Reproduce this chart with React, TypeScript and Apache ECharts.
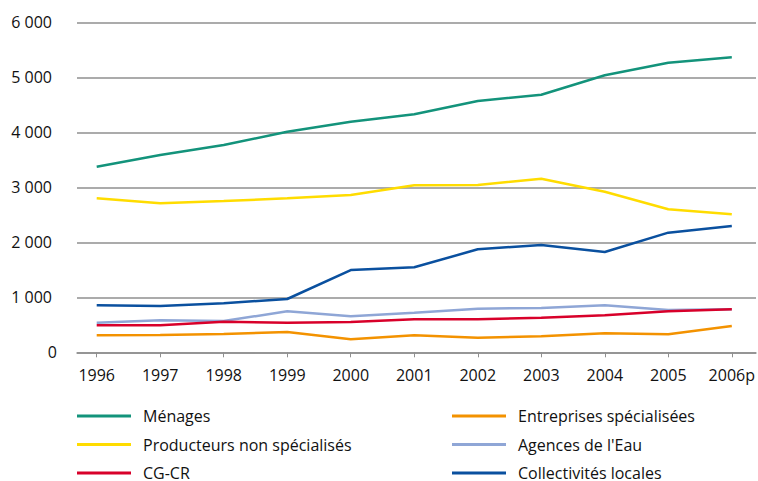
import React, { useEffect, useRef } from "react";
import * as echarts from "echarts";

const years = ["1996", "1997", "1998", "1999", "2000", "2001", "2002", "2003", "2004", "2005", "2006p"];

const menages = [3375, 3587, 3769, 4011, 4193, 4327, 4569, 4684, 5036, 5265, 5364];
const entreprises = [309, 315, 333, 369, 236, 309, 266, 290, 345, 327, 478];
const producteurs = [2800, 2710, 2750, 2800, 2860, 3036, 3040, 3156, 2920, 2600, 2509];
const agences = [538, 581, 569, 745, 655, 720, 793, 805, 855, 769, 782];
const cgcr = [491, 491, 557, 539, 551, 600, 600, 630, 672, 745, 782];
const collectivites = [855, 842, 891, 969, 1496, 1545, 1873, 1951, 1824, 2175, 2296];

const seriesNames = [
  "Ménages",
  "Entreprises spécialisées",
  "Producteurs non spécialisés",
  "Agences de l'Eau",
  "CG-CR",
  "Collectivités locales",
];
const seriesData = [menages, entreprises, producteurs, agences, cgcr, collectivites];
const seriesColors = ["#13937b", "#f39200", "#ffdc00", "#8fa6d6", "#d8002a", "#0a509f"];

const leftLegend = ["Ménages", "Producteurs non spécialisés", "CG-CR"];
const rightLegend = ["Entreprises spécialisées", "Agences de l'Eau", "Collectivités locales"];

const yTicks = { min: 0, max: 6000, interval: 1000 };

const FONT = "'Open Sans', 'Noto Sans', sans-serif";
const TEXT = "#111111";
const GRAY = "#8f8f8f";

export default function App() {
  const ref = useRef<HTMLDivElement>(null);

  useEffect(() => {
    if (!ref.current) return;
    const chart = echarts.init(ref.current, undefined, { renderer: "svg" });
    const top = 22.3;
    const bottom = 481 - 352.3;
    const legendCommon = {
      orient: "vertical",
      icon: "rect",
      itemWidth: 54,
      itemHeight: 3,
      itemGap: 12.5,
      padding: 0,
      height: 140,
      selectedMode: false,
      textStyle: {
        fontFamily: FONT,
        fontSize: 16,
        color: TEXT,
        lineHeight: 16,
        padding: [0, 0, 0, 7],
      },
    };
    chart.setOption({
      animation: false,
      backgroundColor: "#ffffff",
      textStyle: { fontFamily: FONT },
      grid: [
        { left: 77, right: 2, top, bottom },
        { left: 96.7, right: 758 - 733.3, top, bottom },
      ],
      legend: [
        { ...legendCommon, data: leftLegend, left: 77, top: 408 },
        { ...legendCommon, data: rightLegend, left: 452, top: 408 },
      ],
      xAxis: [
        {
          gridIndex: 0,
          type: "value",
          min: 0,
          max: 1,
          axisLine: { show: true, lineStyle: { color: GRAY, width: 1.5 } },
          axisTick: { show: false },
          axisLabel: { show: false },
          splitLine: { show: false },
        },
        {
          gridIndex: 1,
          type: "category",
          data: years,
          boundaryGap: false,
          axisLine: { show: false },
          axisTick: { show: true, length: 5, lineStyle: { color: GRAY, width: 1 } },
          axisLabel: {
            fontFamily: FONT,
            fontSize: 16,
            color: TEXT,
            margin: 15,
            interval: 0,
          },
          splitLine: { show: false },
        },
      ],
      yAxis: [
        {
          gridIndex: 0,
          type: "value",
          min: yTicks.min,
          max: yTicks.max,
          interval: yTicks.interval,
          axisLine: { show: false },
          axisTick: { show: false },
          axisLabel: {
            fontFamily: FONT,
            fontSize: 16,
            color: TEXT,
            margin: 20,
            formatter: (v: number) =>
              v === 0
                ? "{z|0}"
                : "{n|" + String(v).replace(/\B(?=(\d{3})+(?!\d))/g, " ") + "}",
            rich: {
              z: { fontFamily: FONT, fontSize: 16, color: TEXT },
              n: { fontFamily: FONT, fontSize: 16, color: TEXT, padding: [0, 5, 0, 0] },
            },
          },
          splitLine: { show: true, lineStyle: { color: GRAY, width: 1.5 } },
        },
        {
          gridIndex: 1,
          type: "value",
          min: yTicks.min,
          max: yTicks.max,
          interval: yTicks.interval,
          show: false,
          splitLine: { show: false },
        },
      ],
      series: seriesNames.map((name, i) => ({
        name,
        type: "line",
        xAxisIndex: 1,
        yAxisIndex: 1,
        data: seriesData[i],
        symbol: "none",
        smooth: false,
        color: seriesColors[i],
        lineStyle: { color: seriesColors[i], width: 2.5 },
      })),
    });
    return () => chart.dispose();
  }, []);

  return (
    <div
      ref={ref}
      style={{ position: "fixed", left: 0, top: 0, width: 758, height: 481, background: "#fff" }}
    />
  );
}
